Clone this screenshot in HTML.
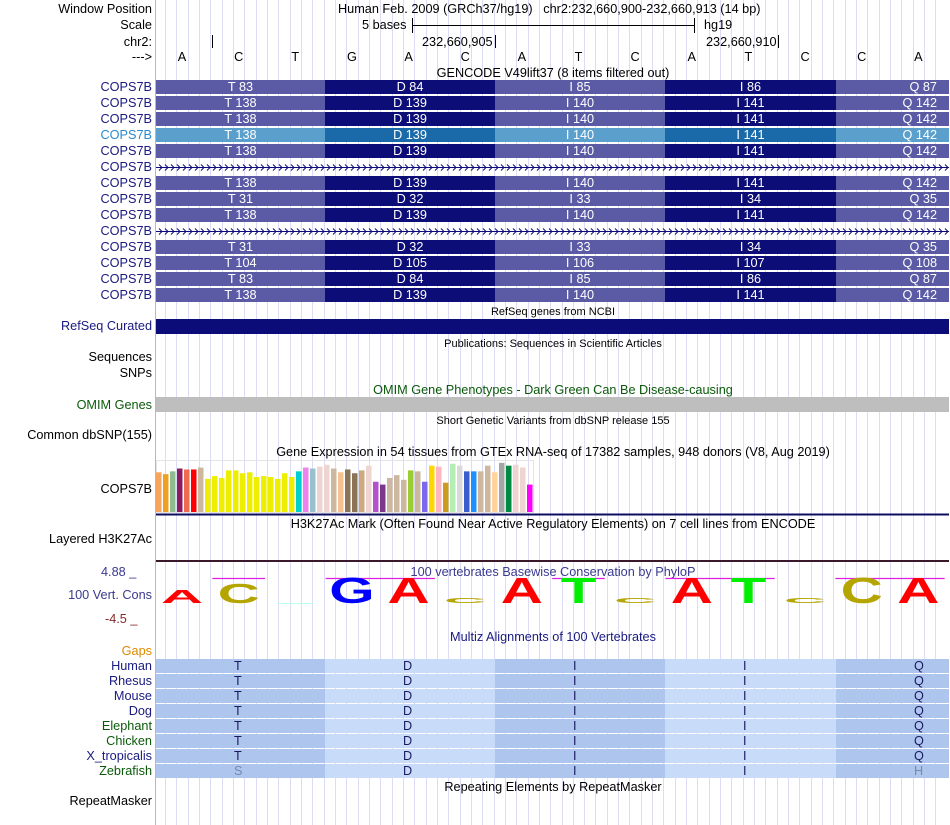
<!DOCTYPE html>
<html><head><meta charset="utf-8"><style>
body{margin:0;width:950px;height:825px;background:#fff;position:relative;overflow:hidden;font-family:"Liberation Sans",sans-serif;font-size:12.7px;color:#000}
.a{position:absolute;white-space:nowrap}
.lab{position:absolute;right:798px;white-space:nowrap;font-size:12.7px;line-height:14px}
.ttl{position:absolute;left:156px;width:794px;text-align:center;white-space:nowrap;line-height:14px;font-size:12.7px}
.sm{font-size:11px}
</style></head><body>
<svg id="grid" class="a" style="left:0;top:0" width="950" height="825"></svg>

<div class="lab" style="top:2px">Window Position</div>
<div class="lab" style="top:18px">Scale</div>
<div class="lab" style="top:35px">chr2:</div>
<div class="lab" style="top:50px">---&gt;</div>
<div class="a" style="left:338px;top:2px;line-height:14px">Human Feb. 2009 (GRCh37/hg19)&nbsp;&nbsp;&nbsp;chr2:232,660,900-232,660,913 (14 bp)</div>
<div class="a" style="left:362px;top:18px;line-height:14px">5 bases</div>
<div class="a" style="left:704px;top:18px;line-height:14px">hg19</div>
<div class="a" style="left:422px;top:35px;line-height:14px">232,660,905</div>
<div class="a" style="left:706px;top:35px;line-height:14px">232,660,910</div>
<div id="bases"></div>

<div class="ttl" style="top:66px">GENCODE V49lift37 (8 items filtered out)</div>
<div id="genes"></div>

<div class="ttl sm" style="top:305px">RefSeq genes from NCBI</div>
<div class="lab" style="top:319px;color:#1a1a80">RefSeq Curated</div>
<div class="a" style="left:156px;top:319px;width:793px;height:15px;background:#0c0c78"></div>

<div class="ttl sm" style="top:337px">Publications: Sequences in Scientific Articles</div>
<div class="lab" style="top:350px">Sequences</div>
<div class="lab" style="top:366px">SNPs</div>
<div class="ttl" style="top:383px;color:#0a5a0a">OMIM Gene Phenotypes - Dark Green Can Be Disease-causing</div>
<div class="lab" style="top:398px;color:#0a5a0a">OMIM Genes</div>
<div class="a" style="left:156px;top:397px;width:793px;height:15px;background:#bebebe"></div>
<div class="ttl sm" style="top:414px">Short Genetic Variants from dbSNP release 155</div>
<div class="lab" style="top:428px">Common dbSNP(155)</div>

<div class="ttl" style="top:445px">Gene Expression in 54 tissues from GTEx RNA-seq of 17382 samples, 948 donors (V8, Aug 2019)</div>
<div class="lab" style="top:482px">COPS7B</div>
<svg id="gtex" class="a" style="left:0;top:455px" width="950" height="62"></svg>

<div class="ttl" style="top:517px">H3K27Ac Mark (Often Found Near Active Regulatory Elements) on 7 cell lines from ENCODE</div>
<div class="lab" style="top:532px">Layered H3K27Ac</div>
<div class="a" style="left:156px;top:560px;width:793px;height:2px;background:#3a1a2a"></div>

<div class="a" style="left:101px;top:565px;color:#3a3a90;line-height:14px">4.88 _</div>
<div class="lab" style="top:588px;color:#3a3a90">100 Vert. Cons</div>
<div class="a" style="left:105px;top:612px;color:#8a2a2a;line-height:14px">-4.5 _</div>
<div class="ttl" style="top:565px;color:#3a3a90">100 vertebrates Basewise Conservation by PhyloP</div>
<svg id="logo" class="a" style="left:0;top:570px" width="950" height="45"></svg>

<div class="ttl" style="top:630px;color:#1a1a80">Multiz Alignments of 100 Vertebrates</div>
<div class="lab" style="top:644px;color:#e08a00">Gaps</div>
<div id="multiz"></div>

<div class="ttl" style="top:780px">Repeating Elements by RepeatMasker</div>
<div class="lab" style="top:794px">RepeatMasker</div>

<script>
var NS='http://www.w3.org/2000/svg';
var X0=153.7, BW=56.64;
var g=document.getElementById('grid');
for(var i=1;i<70;i++){var x=Math.round(X0+i*BW/5)+0.5;if(x>949)break;
 var l=document.createElementNS(NS,'line');l.setAttribute('x1',x);l.setAttribute('x2',x);l.setAttribute('y1',0);l.setAttribute('y2',825);l.setAttribute('stroke','#dcdcf4');
 
 
 g.appendChild(l);}
function ln(x1,y1,x2,y2,c,w){var l=document.createElementNS(NS,'line');l.setAttribute('x1',x1);l.setAttribute('x2',x2);l.setAttribute('y1',y1);l.setAttribute('y2',y2);l.setAttribute('stroke',c);l.setAttribute('stroke-width',w||1);g.appendChild(l);return l;}
var p=ln(155.5,0,155.5,825,'#f4a0a0');
var s=ln(412,25.5,695,25.5,'#000');
ln(412.5,18,412.5,33,'#000');ln(694.5,18,694.5,33,'#000');
ln(212.5,35,212.5,48,'#000');ln(495.5,35,495.5,48,'#000');ln(778.5,35,778.5,48,'#000');
var gl=ln(156,514.5,949,514.5,'#0c0c60',2);

var bases=['A','C','T','G','A','C','A','T','C','A','T','C','C','A'];
var bd=document.getElementById('bases');
bases.forEach(function(b,i){var d=document.createElement('div');d.className='a';d.textContent=b;
 d.style.left=(X0+BW*(i+0.5)-5)+'px';d.style.top='50px';d.style.width='10px';d.style.textAlign='center';d.style.lineHeight='14px';
 
 
 bd.appendChild(d);});

var segX=[156,325,495,665,836,949];
var aa=['T','D','I','I','Q'];
var rowsNum=[[83,84,85,86,87],[138,139,140,141,142],[138,139,140,141,142],[138,139,140,141,142],[138,139,140,141,142],null,[138,139,140,141,142],[31,32,33,34,35],[138,139,140,141,142],null,[31,32,33,34,35],[104,105,106,107,108],[83,84,85,86,87],[138,139,140,141,142]];
var gd=document.getElementById('genes');
rowsNum.forEach(function(r,ri){
 var y=80+ri*16;var hl=(ri==3);
 var lb=document.createElement('div');lb.className='lab';lb.style.top=(y)+'px';lb.textContent='COPS7B';lb.style.color=hl?'#2a8ad0':'#1a1a80';
 
 
 gd.appendChild(lb);
 if(!r){
  var sv=document.createElementNS(NS,'svg');sv.setAttribute('class','a');sv.style.left='156px';sv.style.top=y+'px';sv.setAttribute('width',793);sv.setAttribute('height',14);
  
  
  var d='M0 7.5H793';
  for(var x=3;x<790;x+=6){d+=' M'+x+' 4.5L'+(x+3)+' 7.5L'+x+' 10.5';}
  var pa=document.createElementNS(NS,'path');pa.setAttribute('d',d);pa.setAttribute('stroke','#0c0c78');pa.setAttribute('fill','none');pa.setAttribute('stroke-width',1);
  sv.appendChild(pa);gd.appendChild(sv);return;}
 for(var k=0;k<5;k++){var dv=document.createElement('div');dv.className='a';
  dv.style.left=segX[k]+'px';dv.style.width=(segX[k+1]-segX[k])+'px';dv.style.top=y+'px';dv.style.height='14px';
  dv.style.background=hl?(k%2?'#1a6aaa':'#5ba0cc'):(k%2?'#0d0d78':'#5a5aa5');
  dv.style.color='#fff';dv.style.lineHeight='14px';dv.style.textAlign='center';
  if(k==4){dv.style.textAlign='right';dv.style.boxSizing='border-box';dv.style.paddingRight='12px';}
  dv.textContent=aa[k]+' '+r[k];
  
  
  gd.appendChild(dv);}
});

var gtexValues=[42,40,43,46,45,45,47,35,38,36,44,44,41,42,37,38,37,35,41,37,43,47,46,48,50,46,42,45,41,44,49,32,29,36,39,34,44,43,32,49,48,31,51,49,43,43,43,49,42,52,49,50,47,29];
var gtexColors=['#f7a55a','#f0a020','#8fbc8f','#8b1c62','#ee6a50','#ff0000','#cdb79e','#eeee00','#eeee00','#eeee00','#eeee00','#eeee00','#eeee00','#eeee00','#eeee00','#eeee00','#eeee00','#eeee00','#eeee00','#eeee00','#00ced1','#ee82ee','#9ac0cd','#eed5d2','#eed5d2','#cdb79e','#f4c28e','#8b7355','#8b7355','#cdaa7d','#eed5d2','#b452cd','#7a378b','#cdb79e','#cdb79e','#cdb79e','#9acd32','#cdb79e','#7b68ee','#ffd700','#ffb6c1','#cd9b1d','#b4eeb4','#d9d9d9','#3a5fcd','#1e90ff','#cdb79e','#cdb79e','#ffd39b','#a6a6a6','#008b45','#eed5d2','#eed5d2','#ff00ff'];
var gs=document.getElementById('gtex');
var base=57, maxV=55, plotH=52;
function yS(v){return base-v/maxV*plotH;}
var fr=document.createElementNS(NS,'rect');fr.setAttribute('x',156.5);fr.setAttribute('y',5.5);fr.setAttribute('width',377);fr.setAttribute('height',52);fr.setAttribute('fill','none');fr.setAttribute('stroke','#e4e4e4');gs.appendChild(fr);
gtexValues.forEach(function(v,i){var r=document.createElementNS(NS,'rect');
 r.setAttribute('x',156+i*7);r.setAttribute('width',5.5);r.setAttribute('y',yS(v));r.setAttribute('height',base-yS(v));r.setAttribute('fill',gtexColors[i]);
 
 
 gs.appendChild(r);});

var logoLetters=['A','C','T','G','A','C','A','T','C','A','T','C','C','A'];
var logoHeights=[13,20,1,26,26,5,26,26,5,26,26,5,26,26];
var colMap={A:'#ff0000',C:'#b5a500',G:'#0000ff',T:'#00ee00'};
var lg=document.getElementById('logo');
var magSpans=[[1,1],[3,4],[7,7],[9,10],[12,13]];
magSpans.forEach(function(m){var l=document.createElementNS(NS,'line');l.setAttribute('x1',X0+BW*m[0]+2);l.setAttribute('x2',Math.min(949,X0+BW*(m[1]+1)-2));l.setAttribute('y1',8.5);l.setAttribute('y2',8.5);l.setAttribute('stroke','#e020e0');l.setAttribute('stroke-width',1.3);lg.appendChild(l);});
logoLetters.forEach(function(L,i){var h=logoHeights[i];var cx=X0+BW*(i+0.5);
 if(h<3){var r=document.createElementNS(NS,'rect');r.setAttribute('x',cx-18);r.setAttribute('width',36);r.setAttribute('y',33);r.setAttribute('height',1);r.setAttribute('fill','#bfe');lg.appendChild(r);return;}
 var t=document.createElementNS(NS,'text');var fs=24/0.72;
 t.setAttribute('x',0);t.setAttribute('y',0);t.setAttribute('font-size',fs);t.setAttribute('font-family','Liberation Sans, sans-serif');t.setAttribute('font-weight','bold');
 t.setAttribute('text-anchor','middle');t.setAttribute('fill',colMap[L]);t.textContent=L;
 t.setAttribute('transform','translate('+cx+',33) scale(1.75,'+(h/24)+')');
 
 
 lg.appendChild(t);});

var species=['Human','Rhesus','Mouse','Dog','Elephant','Chicken','X_tropicalis','Zebrafish'];
var spColors=['#1a1a80','#1a1a80','#1a1a80','#1a1a80','#0a5a0a','#0a5a0a','#1a1a80','#0a5a0a'];
var alignAA=[['T','D','I','I','Q'],['T','D','I','I','Q'],['T','D','I','I','Q'],['T','D','I','I','Q'],['T','D','I','I','Q'],['T','D','I','I','Q'],['T','D','I','I','Q'],['S','D','I','I','H']];
var md=document.getElementById('multiz');
species.forEach(function(sp,ri){var y=659+ri*15;
 var lb=document.createElement('div');lb.className='lab';lb.style.top=(y)+'px';lb.textContent=sp;lb.style.color=spColors[ri];
 
 
 md.appendChild(lb);
 for(var k=0;k<5;k++){var d=document.createElement('div');d.className='a';
  d.style.left=segX[k]+'px';d.style.width=(segX[k+1]-segX[k])+'px';d.style.top=y+'px';d.style.height='14px';
  d.style.background=k%2?'#c8dcfa':'#aec6ee';d.style.lineHeight='14px';
  var c=alignAA[ri][k];var diff=c!=alignAA[0][k];d.style.color=diff?'#7788aa':'#1a1a60';
  var sp2=document.createElement('span');sp2.className='a';sp2.textContent=c;sp2.style.left='78px';sp2.style.top='0';
  d.appendChild(sp2);
  
  
  md.appendChild(d);}
});
</script>
</body></html>
